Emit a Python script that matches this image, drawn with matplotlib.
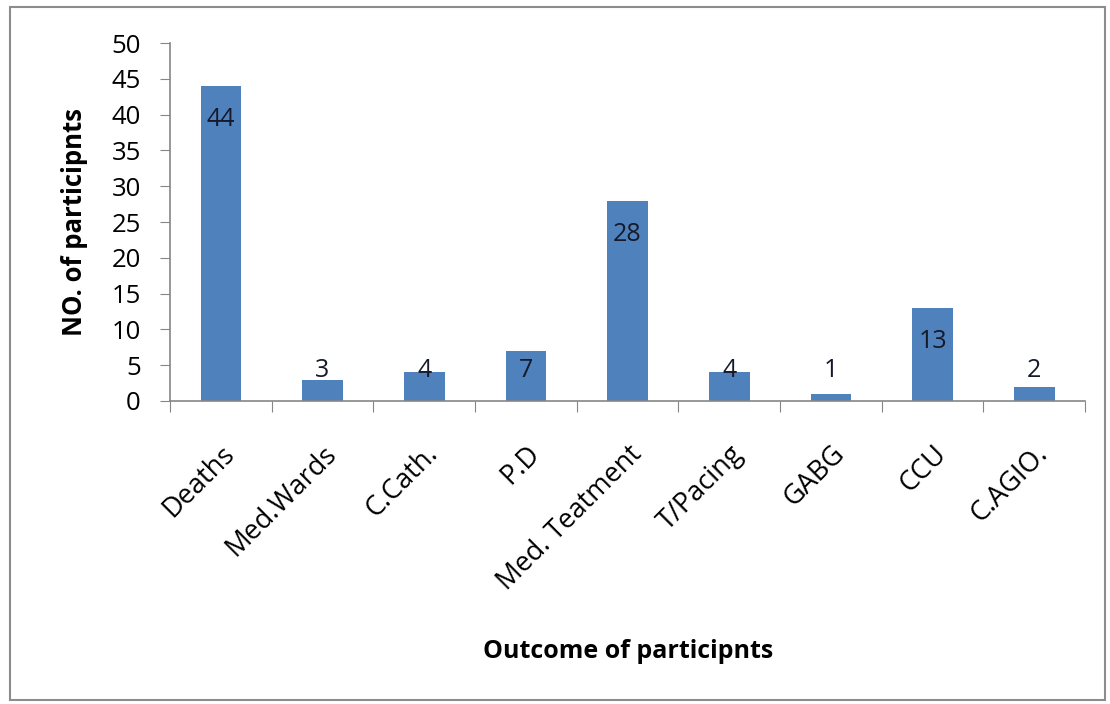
#!/usr/bin/env python3
# -*- coding: utf-8 -*-

import numpy as np
import matplotlib
matplotlib.use("Agg")
import matplotlib.pyplot as plt
from matplotlib.patches import Rectangle

categories = ["Deaths", "Med.Wards", "C.Cath.", "P.D", "Med. Teatment",
              "T/Pacing", "GABG", "CCU", "C.AGIO."]
counts = [44, 3, 4, 7, 28, 4, 1, 13, 2]
y_ticks = [0, 5, 10, 15, 20, 25, 30, 35, 40, 45, 50]

BAR_COLOR = "#4F81BD"
AXIS_COLOR = "#868686"

plt.rcParams["font.family"] = ["Open Sans", "DejaVu Sans"]

fig = plt.figure(figsize=(11.1, 7.04), dpi=100)
ax = fig.add_axes([0.1532, 0.4304, 0.8243, 0.5085])

x = np.arange(len(categories))
ax.bar(x, counts, width=0.40, color=BAR_COLOR, zorder=2)

# data labels: inside end, pushed up when the bar is too short
for xi, v in zip(x, counts):
    ly = max(v - 4.7, 4.3)
    ax.text(xi, ly, str(v), ha="center", va="center", fontsize=18,
            color="#15192a", zorder=3)

ax.set_xlim(-0.5, len(categories) - 0.5)
ax.set_ylim(0, 50)
ax.set_yticks(y_ticks)
ax.tick_params(axis="y", labelsize=18.5, length=7, color=AXIS_COLOR,
               direction="out", pad=14)

# category ticks sit on the boundaries, labels at the centres
ax.set_xticks(np.arange(-0.5, len(categories), 1.0))
ax.set_xticklabels([])
ax.set_xticks(x, minor=True)
ax.set_xticklabels(categories, minor=True, rotation=45, ha="right",
                   rotation_mode="anchor", fontsize=19.5)
ax.tick_params(axis="x", which="major", length=8, color=AXIS_COLOR,
               direction="out")
ax.tick_params(axis="x", which="minor", length=0, pad=28)

for side in ["top", "right"]:
    ax.spines[side].set_visible(False)
for side in ["left", "bottom"]:
    ax.spines[side].set_color(AXIS_COLOR)
    ax.spines[side].set_linewidth(1.2)

ax.set_ylabel("NO. of participnts", fontsize=18.5, fontweight="bold",
              labelpad=17)
fig.text(0.566, 0.074, "Outcome of participnts", fontsize=18,
         fontweight="bold", ha="center", va="center")

# chart-area border
fig.patches.append(Rectangle((10 / 1110, 4 / 704), 1095 / 1110, 693 / 704,
                             transform=fig.transFigure, fill=False,
                             edgecolor="#8c8c8c", linewidth=1.5))

fig.savefig("out.png", dpi=100)
